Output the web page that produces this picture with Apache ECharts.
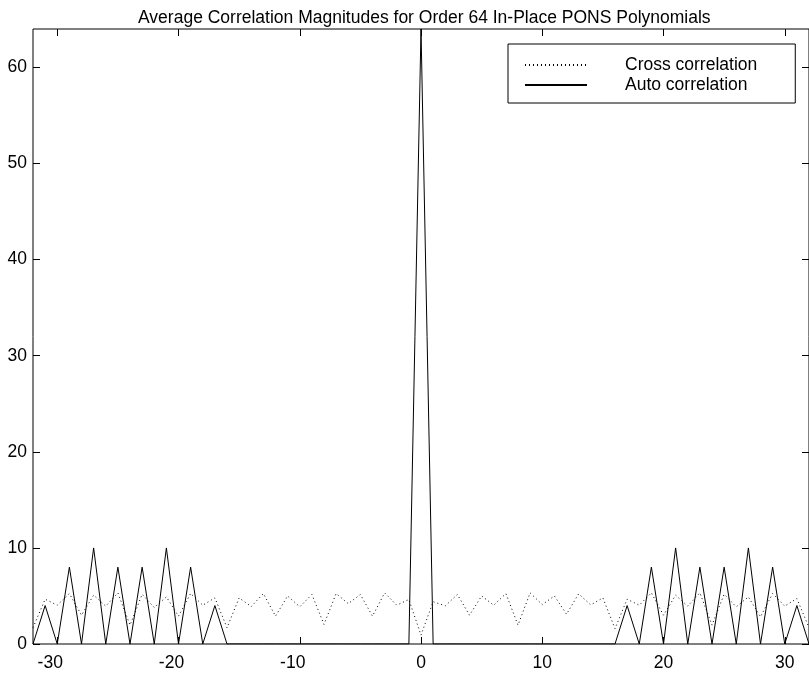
<!DOCTYPE html>
<html>
<head>
<meta charset="utf-8">
<script src="https://cdn.jsdelivr.net/npm/echarts@6/dist/echarts.min.js"></script>
<style>
html,body{margin:0;padding:0;background:#fff;}
#chart{width:809px;height:673px;}
</style>
</head>
<body>
<div id="chart"></div>
<script>
var titleText = 'Average Correlation Magnitudes for Order 64 In-Place PONS Polynomials';
var seriesNames = ['Cross correlation', 'Auto correlation'];
var lags = [-32,-31,-30,-29,-28,-27,-26,-25,-24,-23,-22,-21,-20,-19,-18,-17,-16,-15,-14,-13,-12,-11,-10,-9,-8,-7,-6,-5,-4,-3,-2,-1,
  0,1,2,3,4,5,6,7,8,9,10,11,12,13,14,15,16,17,18,19,20,21,22,23,24,25,26,27,28,29,30,31,32];
var autoVals = [0,4,0,8,0,10,0,8,0,8,0,10,0,8,0,4,0,0,0,0,0,0,0,0,0,0,0,0,0,0,0,0,
  64,0,0,0,0,0,0,0,0,0,0,0,0,0,0,0,0,4,0,8,0,10,0,8,0,8,0,10,0,8,0,4,0];
var crossVals = [1.7,4.66,4.04,5.25,3.0,5.08,3.94,5.32,1.97,5.18,3.8,4.9,2.9,5.25,4.04,4.8,1.69,4.8,3.9,5.25,2.9,5.0,3.87,5.15,2.04,5.25,4.2,5.15,2.9,5.32,4.04,4.63,
  0.93,4.4,3.97,5.15,3.0,5.0,4.04,5.25,1.97,5.32,4.1,5.0,3.1,5.22,4.07,4.8,1.6,4.66,4.04,5.32,3.0,5.08,3.94,5.32,1.97,5.18,3.87,4.9,2.83,5.25,3.94,4.73,1.7];
var xTicks = [-30,-20,-10,0,10,20,30];
var yTicks = [0,10,20,30,40,50,60];

function pairs(xs, ys){ return xs.map(function(x,i){ return [x, ys[i]]; }); }

var FONT = '"Liberation Sans", Arial, Helvetica, sans-serif';
var FS = 17.5;
var chart = echarts.init(document.getElementById('chart'), null, {renderer:'canvas'});
function xAxisCfg(pos, showLabel){
  return {
    type:'value', position:pos, min:-32, max:32,
    axisLine:{show:false, onZero:false},
    splitLine:{show:false},
    axisTick:{show:true, inside:true, length:7, customValues:xTicks, lineStyle:{color:'#000', width:1}},
    axisLabel:{
      show:showLabel, customValues:xTicks, color:'#000', fontSize:FS, fontFamily:FONT, margin:10,
      formatter:function(v){ return v < 0 ? '{n|' + v + '}' : '{p|' + v + '}'; },
      rich:{
        n:{fontSize:FS, fontFamily:FONT, color:'#000', padding:[0,14,0,0]},
        p:{fontSize:FS, fontFamily:FONT, color:'#000'}
      }
    }
  };
}
function yAxisCfg(pos, showLabel){
  return {
    type:'value', position:pos, min:0, max:64,
    axisLine:{show:false, onZero:false},
    splitLine:{show:false},
    axisTick:{show:true, inside:true, length:7, customValues:yTicks, lineStyle:{color:'#000', width:1}},
    axisLabel:{show:showLabel, customValues:yTicks, color:'#000', fontSize:FS, fontFamily:FONT, margin:6}
  };
}
chart.setOption({
  backgroundColor:'#fff',
  animation:false,
  title:{
    text:titleText, left:133, top:4,
    textStyle:{fontSize:FS, fontWeight:'normal', color:'#000', fontFamily:FONT}
  },
  grid:{left:33, right:-5, top:29, bottom:29, show:true, borderColor:'#000', borderWidth:1, backgroundColor:'transparent'},
  legend:{
    orient:'vertical', left:508, top:44,
    padding:[12,38,9,16],
    borderColor:'#000', borderWidth:1, backgroundColor:'#fff',
    itemWidth:62, itemHeight:14, itemGap:2,
    itemStyle:{opacity:0},
    textStyle:{fontSize:FS, color:'#000', fontFamily:FONT, padding:[0,0,0,33], lineHeight:16},
    data:seriesNames
  },
  xAxis:[xAxisCfg('bottom', true), xAxisCfg('top', false)],
  yAxis:[yAxisCfg('left', true), yAxisCfg('right', false)],
  series:[
    {
      name:seriesNames[0], type:'line', data:pairs(lags, crossVals),
      showSymbol:false, symbol:'none', color:'#000',
      lineStyle:{color:'#000', width:1, type:[1,3]}
    },
    {
      name:seriesNames[1], type:'line', data:pairs(lags, autoVals),
      showSymbol:false, symbol:'none', color:'#000',
      lineStyle:{color:'#000', width:1, type:'solid'}
    }
  ]
});
</script>
</body>
</html>
